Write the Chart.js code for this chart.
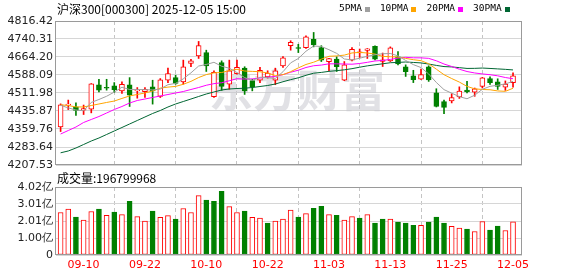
<!DOCTYPE html>
<html><head><meta charset="utf-8">
<script src="https://cdn.jsdelivr.net/npm/chart.js@4.4.1/dist/chart.umd.min.js"></script>
<style>
html,body{margin:0;padding:0;background:#fff;width:578px;height:276px;overflow:hidden;}
#c1{position:absolute;left:0;top:0;}
#c2{position:absolute;left:0;top:172px;}
</style></head><body>
<canvas id="c1" width="578" height="172"></canvas>
<canvas id="c2" width="578" height="104"></canvas>
<script>
// ---------------- data ----------------
const dates = ["09-05","09-08","09-09","09-10","09-11","09-12","09-15","09-16","09-17","09-18","09-19","09-22","09-23","09-24","09-25","09-26","09-29","09-30","10-09","10-10","10-13","10-14","10-15","10-16","10-17","10-20","10-21","10-22","10-23","10-24","10-27","10-28","10-29","10-30","10-31","11-03","11-04","11-05","11-06","11-07","11-10","11-11","11-12","11-13","11-14","11-17","11-18","11-19","11-20","11-21","11-24","11-25","11-26","11-27","11-28","12-01","12-02","12-03","12-04","12-05"];
const xTickLabels = ["09-10","09-22","10-10","10-22","11-03","11-13","11-25","12-05"];
const open  = [4369,4461,4454,4439,4444,4547,4534,4542,4521,4547,4521,4518,4538,4497,4566,4577,4559,4637,4669,4683,4496,4641,4549,4594,4617,4564,4566,4580,4566,4626,4712,4703,4704,4739,4704,4644,4655,4566,4651,4681,4692,4709,4645,4648,4665,4623,4585,4570,4623,4513,4476,4479,4495,4524,4516,4540,4573,4559,4537,4556];
const high  = [4466,4482,4470,4461,4552,4570,4570,4556,4559,4577,4535,4535,4566,4573,4617,4587,4651,4654,4730,4693,4606,4648,4651,4651,4623,4570,4620,4606,4617,4666,4733,4718,4754,4768,4712,4659,4665,4645,4704,4698,4700,4711,4681,4707,4687,4631,4608,4613,4627,4530,4482,4509,4538,4561,4533,4578,4580,4572,4563,4597];
const low   = [4349,4442,4417,4421,4428,4517,4524,4514,4510,4455,4490,4493,4465,4493,4556,4549,4549,4623,4658,4603,4493,4523,4528,4592,4506,4521,4556,4575,4547,4620,4693,4683,4701,4707,4645,4606,4603,4564,4648,4662,4658,4652,4624,4645,4631,4582,4556,4569,4561,4453,4425,4470,4489,4512,4498,4533,4548,4527,4523,4537];
const close = [4462,4464,4438,4446,4551,4524,4532,4526,4549,4503,4525,4527,4521,4568,4594,4553,4623,4648,4712,4627,4599,4540,4606,4620,4521,4538,4608,4596,4606,4661,4726,4700,4750,4716,4651,4658,4623,4631,4697,4686,4699,4655,4652,4703,4635,4602,4568,4590,4567,4455,4451,4493,4520,4518,4530,4576,4556,4540,4550,4585];
const ma5  = [4460,4449,4440,4437,4472.2,4484.6,4498.2,4515.8,4536.4,4526.8,4527,4526,4525,4528.8,4547,4552.6,4571.8,4597.2,4626,4632.6,4641.8,4625.2,4616.8,4598.4,4577.2,4565,4578.6,4576.6,4573.8,4601.8,4639.4,4657.8,4688.6,4710.6,4708.6,4695,4679.6,4655.8,4652,4659,4667.2,4673.6,4678,4679,4669,4649.6,4632,4619.6,4592.4,4556.4,4526.2,4511.2,4496.6,4487.6,4502.6,4527.6,4540.2,4544.8,4550.4,4561.4];
const ma10 = [4462,4459,4453,4453,4459,4465.5,4472,4478,4489,4499.5,4505.8,4512.1,4520.4,4532.6,4536.9,4539.8,4548.9,4561.1,4577.4,4589.8,4597.2,4598.5,4607,4612.2,4604.9,4603.4,4601.9,4596.7,4586.1,4589.5,4602.2,4618.2,4632.6,4642.2,4655.2,4667.2,4668.7,4672.2,4681.3,4683.8,4681.1,4676.6,4666.8,4665.5,4663.9,4658.3,4652.8,4648.7,4635.7,4612.6,4589.4,4573.2,4558.1,4540,4529.5,4526.9,4525.7,4520.7,4519,4532];
const ma20 = [4338.6,4353.4,4368.2,4387.3,4400,4412.6,4427.4,4442.2,4454.9,4469.7,4480.3,4486.6,4493,4499.3,4505.6,4512,4518.3,4526.8,4535.2,4544.7,4551.5,4555.3,4563.7,4572.4,4570.9,4571.6,4575.4,4578.9,4581.8,4589.7,4599.7,4608.4,4619.8,4627.2,4630.1,4635.3,4635.3,4634.5,4633.7,4636.7,4641.7,4647.4,4649.7,4653.9,4659.6,4662.8,4660.8,4660.5,4658.5,4648.2,4634.5,4624.1,4612.5,4602.8,4596.7,4592.6,4589.3,4584.7,4577.4,4572.3];
const ma30 = [4259.1,4266.8,4279.4,4294.2,4309,4321.7,4336.5,4351.3,4366.1,4380.9,4395.7,4410.5,4425.3,4438,4452.8,4465.5,4476,4486.6,4497.2,4507.8,4516.2,4524.7,4528.9,4531,4532.3,4535.2,4539.5,4543.7,4550,4559.6,4568.4,4576.3,4586.7,4595.7,4599,4603.5,4606.5,4610,4614.9,4621,4626.8,4631.1,4635.5,4640,4641.4,4643,4641.2,4639.2,4634.4,4628.7,4623.7,4622.2,4619.2,4615.9,4616.2,4617.5,4615.8,4613.9,4612,4609.5];
const volume = [2.51,2.71,2.24,2.06,2.57,2.71,2.35,2.53,2.39,3.18,2.27,2.00,2.59,2.22,2.33,2.12,2.75,2.51,3.51,3.24,3.18,3.76,2.86,2.51,2.59,2.22,2.18,1.88,2.00,2.12,2.65,2.24,2.45,2.76,2.88,2.39,2.35,2.06,2.27,2.18,2.39,1.88,2.12,2.12,1.94,1.88,1.76,1.75,1.94,2.24,1.88,1.69,1.59,1.53,1.39,1.98,1.47,1.71,1.45,1.968];
const priceTicks = [4207.53,4283.64,4359.76,4435.87,4511.98,4588.09,4664.20,4740.31,4816.42];
const volTicks = [0,1.005,2.01,3.015,4.02];
const volTickLabels = ["0","1.00亿","2.01亿","3.01亿","4.02亿"];
const maNames = ["5PMA","10PMA","20PMA","30PMA"];
const titleText = "沪深300[000300] 2025-12-05 15:00";
const volTitle = "成交量:196799968";
const watermark = "东方财富";

// ---------------- style ----------------
const RED = '#ff0000', GREEN = '#008000';
const maColors = ['#a0a0a0','#ffa500','#ff00ff','#006633'];
const AX_FONT = {family:'DejaVu Sans', size:11};
const tickIdx = xTickLabels.map(l => dates.indexOf(l));
const X_MIN = -0.6, X_MAX = 60.17;

const candleUp = close.map((c,i) => c >= open[i]);
const volUp = close.map((c,i) => i === 0 ? true : c >= close[i-1]);

function xScale(showLabels){
  return {
    type:'linear', min:X_MIN, max:X_MAX, offset:false,
    afterBuildTicks: s => { s.ticks = tickIdx.map(v => ({value:v})); },
    afterFit: s => { s.height = showLabels ? 21 : 0; s.paddingLeft = 0; s.paddingRight = 0; },
    ticks:{display:showLabels, color:RED, font:AX_FONT, padding:4, maxRotation:0, autoSkip:false,
      callback: v => dates[v]},
    grid:{color:'#c4c4c4', drawTicks:false, lineWidth:1},
    border:{display:false, dash:[4,3]}
  };
}
function yFit(s){ s.width = 56; s.paddingTop = 0; s.paddingBottom = 0; }

const framePlugin = {
  id:'frame',
  afterDraw(chart){
    const {ctx, chartArea:a} = chart;
    ctx.save();
    ctx.strokeStyle = '#9a9a9a'; ctx.lineWidth = 1;
    ctx.strokeRect(Math.round(a.left)-0.5, Math.round(a.top)+0.5, Math.round(a.right-a.left), Math.round(a.bottom-a.top)-1);
    ctx.restore();
  }
};

const topText = {
  id:'topText',
  beforeDatasetsDraw(chart){
    const {ctx, chartArea:a} = chart;
    ctx.save();
    ctx.beginPath(); ctx.rect(a.left, a.top, a.right-a.left, a.bottom-a.top); ctx.clip();
    ctx.fillStyle = 'rgba(200,200,208,0.55)';
    ctx.font = 'bold 44px "Noto Sans CJK SC"';
    ctx.textBaseline = 'middle'; ctx.textAlign = 'center';
    ctx.fillText(watermark, 297, 90);
    ctx.restore();
  },
  afterDraw(chart){
    const {ctx} = chart;
    ctx.save();
    ctx.fillStyle = '#000';
    ctx.textBaseline = 'middle';
    ctx.font = '12px "Noto Sans CJK SC"';
    ctx.fillText(titleText, 57, 9);
    ctx.font = '9.5px "DejaVu Sans Mono"';
    let x = 339;
    maNames.forEach((n,i) => {
      ctx.fillStyle = '#000';
      ctx.fillText(n, x, 9);
      const w = ctx.measureText(n).width;
      ctx.fillStyle = maColors[i];
      ctx.fillRect(Math.round(x + w + 3), 7, 5, 5);
      x = x + w + 3 + 5 + 10;
    });
    ctx.restore();
  }
};

const volText = {
  id:'volText',
  afterDraw(chart){
    const {ctx} = chart;
    ctx.save();
    ctx.fillStyle = '#000'; ctx.textBaseline = 'middle';
    ctx.font = '12px "Noto Sans CJK SC"';
    ctx.fillText(volTitle, 57, 6);
    ctx.restore();
  }
};

const pts = arr => arr.map((v,i) => ({x:i, y:v}));

new Chart(document.getElementById('c1'), {
  type:'bar',
  data:{ datasets:[
    ...[ma5,ma10,ma20,ma30].map((m,k) => ({
      type:'line', label:maNames[k], data:pts(m), borderColor:maColors[k], borderWidth:1,
      pointRadius:0, tension:0, order:0, fill:false
    })),
    { label:'body', data: open.map((o,i) => ({x:i, y:[o, close[i]]})),
      backgroundColor: candleUp.map(u => u ? '#ffffff' : GREEN),
      borderColor: candleUp.map(u => u ? RED : GREEN),
      borderWidth:1, borderSkipped:false, barThickness:5, minBarLength:1, grouped:false, order:1 },
    { label:'wick', data: low.map((l,i) => ({x:i, y:[l, high[i]]})),
      backgroundColor: candleUp.map(u => u ? RED : GREEN),
      borderWidth:0, barThickness:1, grouped:false, order:2 }
  ]},
  options:{
    responsive:false, animation:false, devicePixelRatio:1,
    layout:{padding:{left:0, right:56, top:21, bottom:7}},
    plugins:{legend:{display:false}, tooltip:{enabled:false}},
    scales:{
      x: xScale(false),
      y:{ min:4207.53, max:4816.42,
        afterBuildTicks: s => { s.ticks = priceTicks.map(v => ({value:v})); },
        afterFit: yFit,
        ticks:{color:'#222', font:AX_FONT, padding:3, callback: v => v.toFixed(2)},
        grid:{color:'#d6d6d6', drawTicks:false},
        border:{display:false} }
    }
  },
  plugins:[topText, framePlugin]
});

new Chart(document.getElementById('c2'), {
  type:'bar',
  data:{ datasets:[
    { label:'volume', data: volume.map((v,i) => ({x:i, y:v})),
      backgroundColor: volUp.map(u => u ? '#ffffff' : GREEN),
      borderColor: volUp.map(u => u ? RED : GREEN),
      borderWidth:1, borderSkipped:false, barThickness:5, grouped:false }
  ]},
  options:{
    responsive:false, animation:false, devicePixelRatio:1,
    layout:{padding:{left:0, right:56, top:15, bottom:0}},
    plugins:{legend:{display:false}, tooltip:{enabled:false}},
    scales:{
      x: xScale(true),
      y:{ min:0, max:4.02,
        afterBuildTicks: s => { s.ticks = volTicks.map(v => ({value:v})); },
        afterFit: yFit,
        ticks:{color:'#222', font:AX_FONT, padding:3, callback: (v,i) => volTickLabels[i]},
        grid:{color:'#d6d6d6', drawTicks:false},
        border:{display:false} }
    }
  },
  plugins:[volText, framePlugin]
});
</script></body></html>
